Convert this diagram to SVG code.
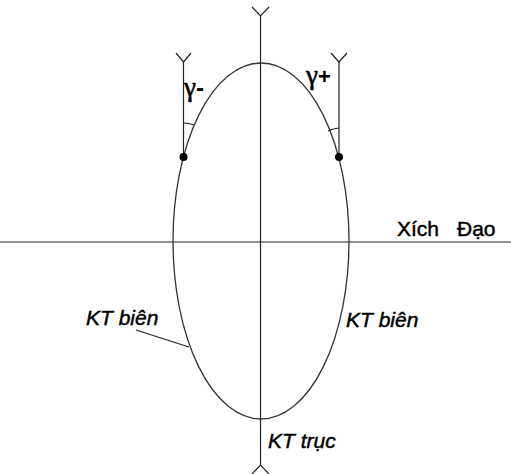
<svg xmlns="http://www.w3.org/2000/svg" width="511" height="474" viewBox="0 0 511 474">
<style>
.ln{stroke:#222;stroke-width:1.2;fill:none}
.el{stroke:#333;stroke-width:1.3;fill:none}
.lbl{font-family:"Liberation Sans",Arial,sans-serif;font-size:21px;fill:#000;stroke:#000;stroke-width:0.45}
.it{font-style:italic}
.g{font-family:"Liberation Serif","Times New Roman",serif;font-size:27px;fill:#000;stroke:#000;stroke-width:0.6}
.gs{font-family:"Liberation Sans",Arial,sans-serif;font-weight:bold;stroke-width:0}
</style>
<rect width="511" height="474" fill="#fff"/>
<g id="connectors">
<line class="ln" x1="0" y1="242" x2="511" y2="242"/>
<polyline class="ln" points="252,7 260.5,16 269,7"/>
<line class="ln" x1="260.5" y1="16" x2="260.5" y2="465"/>
<polyline class="ln" points="252,474 260.5,465 269,474"/>
<polyline class="ln" points="176,53 183.5,62 191,53"/>
<line class="ln" x1="183.5" y1="62" x2="183.5" y2="157"/>
<polyline class="ln" points="331,53 339,62 347,53"/>
<line class="ln" x1="339" y1="62" x2="339" y2="157"/>
<path class="ln" d="M183.5,123 A34,34 0 0 1 194,125"/>
<path class="ln" d="M339,128 A29,29 0 0 0 328,131"/>
<line class="ln" x1="136" y1="330" x2="189" y2="347"/>
</g>
<g id="ellipse">
<ellipse class="el" cx="261" cy="241" rx="88" ry="178"/>
</g>
<g id="dot-left"><circle cx="183.5" cy="157" r="4" fill="#000"/></g>
<g id="dot-right"><circle cx="339" cy="157" r="4" fill="#000"/></g>
<g id="label-gminus"><text class="g" x="184" y="96">γ<tspan class="gs" font-size="24">-</tspan></text></g>
<g id="label-gplus"><text class="g" x="306" y="84">γ<tspan class="gs" font-size="22">+</tspan></text></g>
<g id="label-xichdao"><text class="lbl" y="236"><tspan x="397">Xích</tspan><tspan x="457">Đạo</tspan></text></g>
<g id="label-ktbien-right"><text class="lbl it" x="346" y="327">KT biên</text></g>
<g id="label-ktbien-left"><text class="lbl it" x="86" y="325">KT biên</text></g>
<g id="label-kttruc"><text class="lbl it" x="268" y="448">KT trục</text></g>
</svg>
